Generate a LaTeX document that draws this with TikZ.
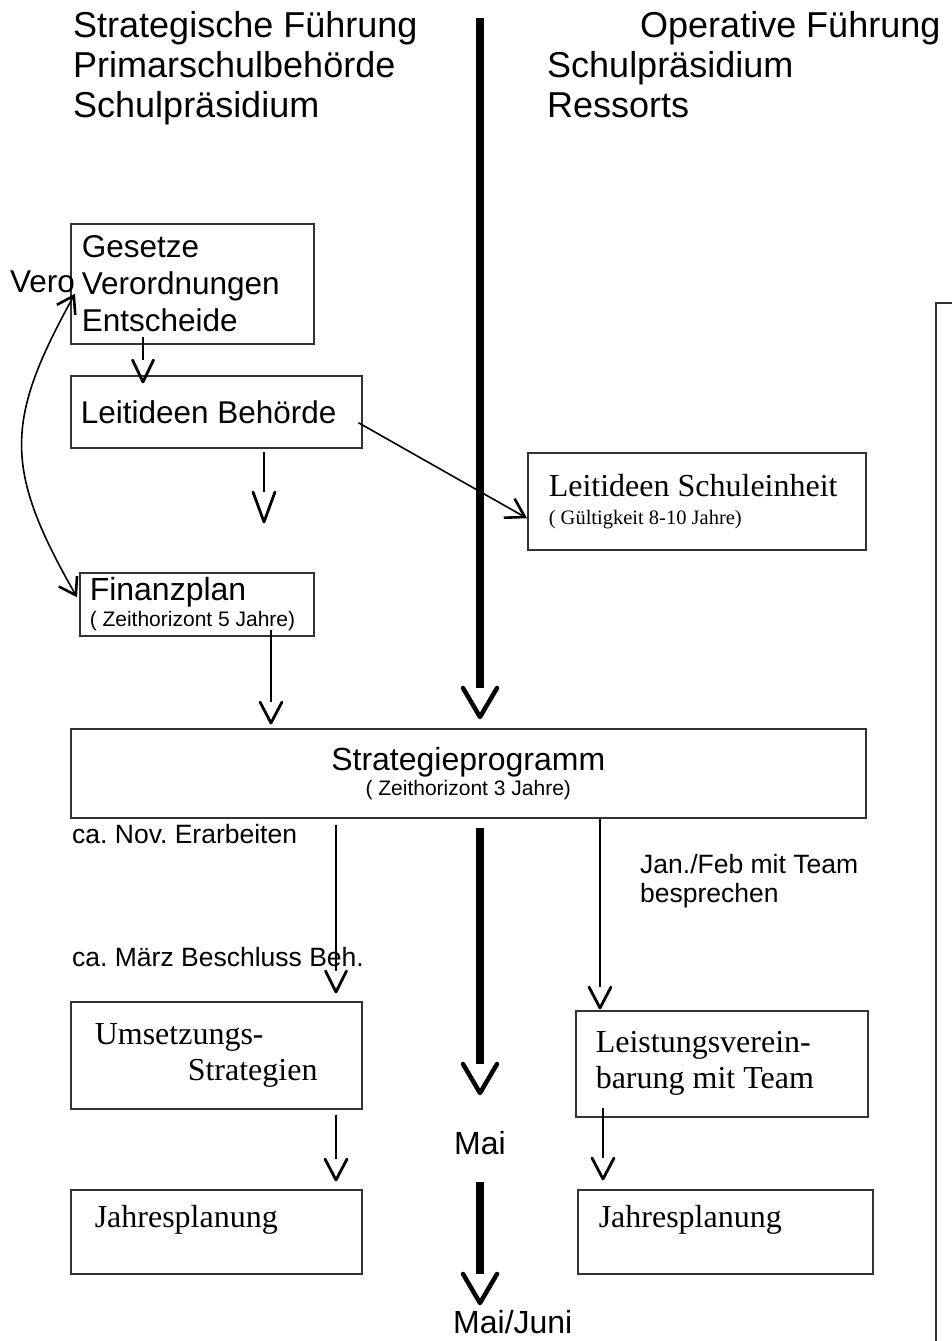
\documentclass[tikz,border=0pt]{standalone}
\usepackage{fontspec}
\setmainfont{Liberation Sans}
\newfontfamily\timesfont{Liberation Serif}
\usepackage{tikz}
\usetikzlibrary{arrows.meta}
\frenchspacing
\newcommand\setfs[2]{\fontsize{#1}{#2}\selectfont}
\newcommand\flowarrow{}
\def\flowarrow[#1](#2)(#3)(#4:#5){% \flowarrow[kind](start)(tip)(half width:length)
\draw[#1 shaft] (#2) -- ([yshift=#5]#3);
\draw[#1 head] ([shift={(-#4,-#5)}]#3) -- (#3) -- ([shift={(#4,-#5)}]#3)
}

\begin{document}
\begin{tikzpicture}[x=1pt,y=-1pt,
  box/.style={draw=black!80, line width=1.5pt, anchor=north west, align=flush left, inner ysep=0pt},
  lbl/.style={anchor=base west, inner sep=0pt, font=\setfs{26.5}{29}},
  head/.style={lbl, align=left, font=\setfs{36}{40}},
  fine shaft/.style={line width=1.6pt},
  fine head/.style={line width=2.8pt, line cap=round, line join=round},
  bold shaft/.style={line width=8pt},
  bold head/.style={line width=4.5pt, line cap=round, line join=round},
  fine tip/.style={line width=1.6pt, -{Straight Barb[length=18pt,width=22pt,line width=2.6pt]}},
  fine tips/.style={line width=1.6pt, >={Straight Barb[length=16pt,width=21pt,line width=2.6pt]}, <->}]
	\useasboundingbox (0,0) rectangle (951,1341);
	%% headings (anchored on their last line)
	\node[head] (headL) at (73,117) {Strategische Führung\\Primarschulbehörde\\Schulpräsidium};
	\node[head] (headR) at (547,117) {\hspace*{93pt}Operative Führung\\Schulpräsidium\\Ressorts};
	%% boxes
	\node[box, minimum width=243, minimum height=120, text width=221, inner xsep=11, font=\setfs{31.5}{37}] (gesetze) at (70,223) {Gesetze\\Verordnungen\\Entscheide};
	\node[box, minimum width=291, minimum height=72, text width=271, inner xsep=10, font=\setfs{31.5}{36}] (leitB) at (70,375) {Leitideen Behörde};
	\node[box, minimum width=234, minimum height=63, text width=214, inner xsep=10, font=\setfs{32}{26}] (finanz) at (79,572) {Finanzplan\\{\setfs{21}{24}( Zeithorizont 5 Jahre)}};
	\node[box, minimum width=338, minimum height=97, text width=296, inner xsep=21, font=\timesfont\setfs{32}{28}] (leitS) at (527,452) {Leitideen Schuleinheit\\{\setfs{20.5}{22}( Gültigkeit 8-10 Jahre)}};
	\node[box, minimum width=795, minimum height=89, text width=795, inner xsep=0, align=flush center, font=\setfs{32}{25}] (strat) at (70,728) {Strategieprogramm\\{\setfs{21}{24}( Zeithorizont 3 Jahre)}};
	\node[box, minimum width=291, minimum height=107, text width=243, inner xsep=24, font=\timesfont\setfs{32}{36}] (umsetz) at (70,1001) {Umsetzungs-\\\hspace*{93pt}Strategien};
	\node[box, minimum width=292, minimum height=106, text width=252, inner xsep=20, font=\timesfont\setfs{32}{36}] (leist) at (575,1010) {Leistungsverein-\\barung mit Team};
	\node[box, minimum width=291, minimum height=84, text width=243, inner xsep=24, text depth=30, font=\timesfont\setfs{32}{36}] (jahrL) at (70,1189) {Jahresplanung};
	\node[box, minimum width=295, minimum height=84, text width=253, inner xsep=21, text depth=30, font=\timesfont\setfs{32}{36}] (jahrR) at (577,1189) {Jahresplanung};
	\draw[draw=black!80, line width=1.5pt] (936,1360) -- (936,303) -- (970,303);
	%% labels
	\node[lbl, font=\setfs{31.5}{37}] (vero) at (10,292) {Vero};
	\node[lbl] (nov) at (72,843) {ca. Nov. Erarbeiten};
	\node[lbl] (maerz) at (72,966) {ca. März Beschluss Beh.};
	\node[lbl, align=left] (jan) at (640,902) {Jan./Feb mit Team\\besprechen};
	\node[lbl, anchor=base, font=\setfs{32}{36}] (mai) at (480,1154) {Mai};
	\node[lbl, font=\setfs{32}{36}] (maijuni) at (453,1333) {Mai/Juni};
	%% time line
	\coordinate (timeTop) at (480,18);
	\coordinate (timeA) at (480,717);
	\coordinate (timeB0) at (480,828);
	\coordinate (timeB) at (480,1093);
	\coordinate (timeC0) at (480,1182);
	\coordinate (timeC) at (480,1303);
	\flowarrow[bold](timeTop)(timeA)(17:29);
	\flowarrow[bold](timeB0)(timeB)(17:29);
	\flowarrow[bold](timeC0)(timeC)(17:29);
	%% connectors
	\coordinate (tipLeitB) at ([xshift=73,yshift=-7]leitB.north west);
	\coordinate (leitBend) at (264,522);
	\coordinate (tipStrat) at ([xshift=201,yshift=5]strat.north west);
	\coordinate (tipUms) at ([xshift=266,yshift=9]umsetz.north west);
	\coordinate (tipJahrL) at ([xshift=266,yshift=9]jahrL.north west);
	\coordinate (tipLeist) at ([xshift=25,yshift=2]leist.north west);
	\coordinate (tipJahrR) at ([xshift=26,yshift=10]jahrR.north west);
	\flowarrow[fine]([xshift=73,yshift=8]gesetze.south west)(tipLeitB)(10.5:22);
	\flowarrow[fine]([xshift=194,yshift=-3]leitB.south west)(leitBend)(11:30);
	\flowarrow[fine]([xshift=192,yshift=7]finanz.south west)(tipStrat)(11:21);
	\flowarrow[fine]([xshift=266,yshift=-6]strat.south west)(tipUms)(10.5:21);
	\flowarrow[fine]([xshift=266,yshift=-5]umsetz.south west)(tipJahrL)(11:21);
	\flowarrow[fine]([xshift=530]strat.south west)(tipLeist)(11:21);
	\flowarrow[fine]([xshift=28,yshift=10]leist.south west)(tipJahrR)(11:21);
	\draw[fine tip] ([xshift=-4,yshift=-11]leitB.east) -- ([yshift=-17]leitS.west);
	\draw[fine tips] ([xshift=5,yshift=-10]gesetze.west) .. controls +(-71,128) and +(-73,-128) .. ([xshift=-2,yshift=7]finanz.west);
\end{tikzpicture}
\end{document}
